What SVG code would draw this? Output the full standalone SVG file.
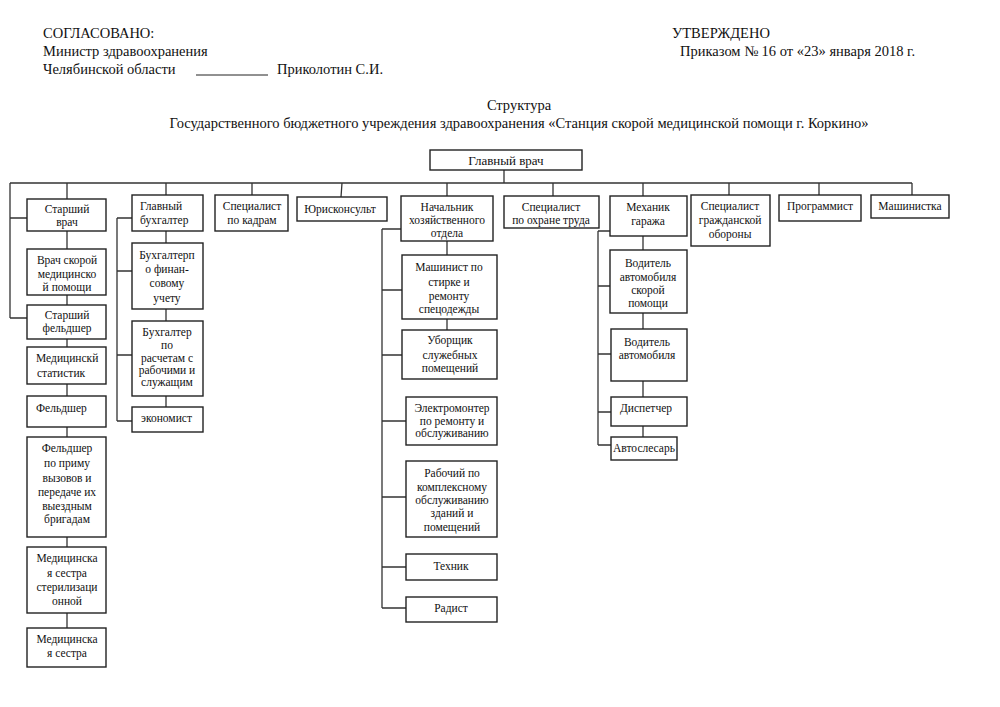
<svg xmlns="http://www.w3.org/2000/svg" width="1000" height="707" viewBox="0 0 1000 707">
<style>
.bg{fill:#fff}
.box{fill:#fff;stroke:#222;stroke-width:1.4}
.ln{fill:none;stroke:#333;stroke-width:1.3}
.h,.t,.big{font-family:"Liberation Serif",serif;fill:#111}
.h{font-size:14.5px}
.t{font-size:11.5px}
.m{text-anchor:middle}
.big{font-size:13px}
</style>
<rect class="bg" x="0" y="0" width="1000" height="707"/>
<g id="header">
<text class="h" x="43" y="38">СОГЛАСОВАНО:</text>
<text class="h" x="43" y="56">Министр здравоохранения</text>
<text class="h" x="43" y="74">Челябинской области</text>
<line x1="196" y1="75" x2="268" y2="75" stroke="#222" stroke-width="1"/>
<text class="h" x="277" y="74">Приколотин С.И.</text>
<text class="h" x="672" y="38">УТВЕРЖДЕНО</text>
<text class="h" x="680" y="56">Приказом № 16 от «23» января 2018 г.</text>
<text class="h m" x="519" y="110">Структура</text>
<text class="h m" x="519" y="128">Государственного бюджетного учреждения здравоохранения «Станция скорой медицинской помощи г. Коркино»</text>
</g>
<g id="connectors">
<path class="ln" d="M504 170V183M10 183H912M67 183V199M166 183V195M252 183V195M342 183L341 197M447 183V196M553 183V196M643 183V196M729 183V195M819 183V195M912 183V195"/>
<path class="ln" d="M10 183V318M10 218H27M10 318H27M67 231V249M67 295V305M67 339V347M67 384V396M67 427V437M67 537V547M67 613V628"/>
<path class="ln" d="M117 218V421M117 218H132M117 271H132M117 355H132M117 421H132M166 231V243M166 309V321M166 396V407"/>
<path class="ln" d="M382 229V608M382 229H401M382 290H402M382 355H402M382 421H406M382 497H406M382 567H406M382 608H406M447 241V255M447 319V330"/>
<path class="ln" d="M598 231V445M598 231H610M598 286H610M598 354H611M598 412H611M598 445H611M643 236V250M643 313V329M643 381V397M643 426V437"/>
</g>
<g id="n-glavvrach"><rect class="box" x="430" y="150" width="152" height="20"/><text class="big m" x="506" y="165">Главный врач</text></g>
<g id="n-starvrach"><rect class="box" x="27" y="199" width="79" height="32"/><text class="t m" x="67" y="213">Старший</text><text class="t m" x="67" y="226">врач</text></g>
<g id="n-glavbuh"><rect class="box" x="132" y="195" width="71" height="36"/><text class="t" x="140" y="210">Главный</text><text class="t" x="140" y="224">бухгалтер</text></g>
<g id="n-kadry"><rect class="box" x="215" y="195" width="73" height="36"/><text class="t m" x="252" y="210">Специалист</text><text class="t m" x="252" y="224">по кадрам</text></g>
<g id="n-yurist"><rect class="box" x="297" y="197" width="90" height="24"/><text class="t m" x="340" y="213">Юрисконсульт</text></g>
<g id="n-hoz"><rect class="box" x="401" y="196" width="92" height="45"/><text class="t m" x="447" y="211">Начальник</text><text class="t m" x="447" y="224">хозяйственного</text><text class="t m" x="447" y="237">отдела</text></g>
<g id="n-ohrana"><rect class="box" x="504" y="196" width="95" height="32"/><text class="t m" x="551" y="211">Специалист</text><text class="t m" x="551" y="224">по охране труда</text></g>
<g id="n-mehanik"><rect class="box" x="610" y="196" width="77" height="40"/><text class="t m" x="648" y="211">Механик</text><text class="t m" x="648" y="225">гаража</text></g>
<g id="n-go"><rect class="box" x="691" y="195" width="79" height="51"/><text class="t m" x="730" y="210">Специалист</text><text class="t m" x="730" y="224">гражданской</text><text class="t m" x="730" y="238">обороны</text></g>
<g id="n-prog"><rect class="box" x="779" y="195" width="82" height="26"/><text class="t m" x="820" y="210">Программист</text></g>
<g id="n-mash"><rect class="box" x="871" y="195" width="78" height="23"/><text class="t m" x="910" y="210">Машинистка</text></g>
<g id="n-vrachsmp"><rect class="box" x="27" y="249" width="79" height="46"/><text class="t m" x="67" y="264">Врач скорой</text><text class="t m" x="67" y="278">медицинско</text><text class="t m" x="67" y="291">й помощи</text></g>
<g id="n-starfeld"><rect class="box" x="27" y="305" width="79" height="34"/><text class="t m" x="67" y="319">Старший</text><text class="t m" x="67" y="332">фельдшер</text></g>
<g id="n-stat"><rect class="box" x="27" y="347" width="79" height="37"/><text class="t" x="36" y="362">Медицинскй</text><text class="t" x="37" y="377">статистик</text></g>
<g id="n-feld"><rect class="box" x="27" y="396" width="79" height="31"/><text class="t" x="36" y="412">Фельдшер</text></g>
<g id="n-feldpriem"><rect class="box" x="27" y="437" width="79" height="100"/><text class="t m" x="67" y="452">Фельдшер</text><text class="t m" x="67" y="467">по приму</text><text class="t m" x="67" y="482">вызовов и</text><text class="t m" x="67" y="496">передаче их</text><text class="t m" x="67" y="510">выездным</text><text class="t m" x="67" y="523">бригадам</text></g>
<g id="n-medsestster"><rect class="box" x="27" y="547" width="79" height="66"/><text class="t m" x="67" y="562">Медицинска</text><text class="t m" x="67" y="577">я сестра</text><text class="t m" x="67" y="591">стерилизаци</text><text class="t m" x="67" y="605">онной</text></g>
<g id="n-medsest"><rect class="box" x="27" y="628" width="79" height="39"/><text class="t m" x="67" y="643">Медицинска</text><text class="t m" x="67" y="657">я сестра</text></g>
<g id="n-buhfin"><rect class="box" x="132" y="243" width="71" height="66"/><text class="t m" x="167" y="259">Бухгалтерп</text><text class="t m" x="167" y="273">о финан-</text><text class="t m" x="167" y="287">совому</text><text class="t m" x="167" y="302">учету</text></g>
<g id="n-buhrasch"><rect class="box" x="132" y="321" width="71" height="75"/><text class="t m" x="167" y="336">Бухгалтер</text><text class="t m" x="167" y="349">по</text><text class="t m" x="167" y="362">расчетам с</text><text class="t m" x="167" y="374">рабочими и</text><text class="t m" x="167" y="386">служащим</text></g>
<g id="n-ekon"><rect class="box" x="132" y="407" width="71" height="25"/><text class="t" x="141" y="422">экономист</text></g>
<g id="n-mashinist"><rect class="box" x="402" y="255" width="95" height="64"/><text class="t m" x="449" y="271">Машинист по</text><text class="t m" x="449" y="286">стирке и</text><text class="t m" x="449" y="300">ремонту</text><text class="t m" x="449" y="313">спецодежды</text></g>
<g id="n-uborsch"><rect class="box" x="402" y="330" width="95" height="49"/><text class="t m" x="450" y="344">Уборщик</text><text class="t m" x="450" y="359">служебных</text><text class="t m" x="450" y="372">помещений</text></g>
<g id="n-elektro"><rect class="box" x="406" y="397" width="91" height="48"/><text class="t m" x="452" y="412">Электромонтер</text><text class="t m" x="452" y="425">по ремонту и</text><text class="t m" x="452" y="437">обслуживанию</text></g>
<g id="n-rabochiy"><rect class="box" x="406" y="461" width="91" height="76"/><text class="t m" x="452" y="477">Рабочий по</text><text class="t m" x="452" y="491">комплексному</text><text class="t m" x="452" y="504">обслуживанию</text><text class="t m" x="452" y="517">зданий и</text><text class="t m" x="452" y="531">помещений</text></g>
<g id="n-tehnik"><rect class="box" x="406" y="554" width="91" height="26"/><text class="t m" x="451" y="570">Техник</text></g>
<g id="n-radist"><rect class="box" x="406" y="597" width="91" height="25"/><text class="t m" x="451" y="612">Радист</text></g>
<g id="n-voditsmp"><rect class="box" x="610" y="250" width="77" height="63"/><text class="t m" x="648" y="267">Водитель</text><text class="t m" x="648" y="281">автомобиля</text><text class="t m" x="648" y="294">скорой</text><text class="t m" x="648" y="307">помощи</text></g>
<g id="n-vodit"><rect class="box" x="611" y="329" width="76" height="52"/><text class="t m" x="647" y="346">Водитель</text><text class="t m" x="647" y="359">автомобиля</text></g>
<g id="n-disp"><rect class="box" x="611" y="397" width="76" height="29"/><text class="t" x="620" y="412">Диспетчер</text></g>
<g id="n-avtosl"><rect class="box" x="611" y="437" width="66" height="23"/><text class="t m" x="644" y="452">Автослесарь</text></g>
</svg>
